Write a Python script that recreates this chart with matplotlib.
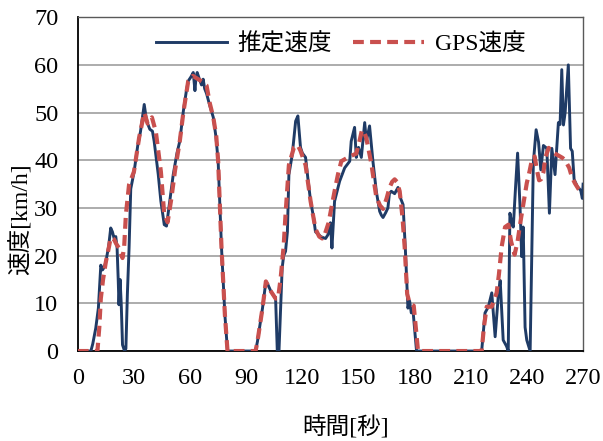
import matplotlib
matplotlib.use("Agg")
import matplotlib.pyplot as plt
from matplotlib import font_manager

_names = {f.name for f in font_manager.fontManager.ttflist}
_serif = 'Liberation Serif' if 'Liberation Serif' in _names else 'DejaVu Serif'
plt.rcParams['font.family'] = [_serif, 'Noto Sans CJK JP', 'DejaVu Sans']

# Estimated speed (推定速度)
est_t = [0, 7, 8, 9.6, 11, 12.3, 13.2, 14, 15, 16.5, 17.6, 18.5, 19.5, 20.3, 21, 21.6, 22, 22.6, 23.2,
         23.9, 25, 25.7, 26.5, 27.4, 28.3, 30.1, 32, 33.5, 35.5, 36.5, 37.3, 38.5, 39.9, 40.8, 41.7, 43,
         44.4, 46.2, 47.4, 49, 51, 53, 54.5, 56.4, 58, 59, 60.5, 61.7, 62.6, 63.2, 63.8, 65, 66.1, 67,
         67.8, 68.8, 70.5, 72.4, 73.8, 75, 76, 76.8, 78.6, 80, 95, 96, 98.7, 100.5, 101.5, 103.2, 105.7,
         106.6, 107.5, 108.5, 109.2, 110, 111, 112, 112.8, 114.6, 116.4, 117.6, 118.5, 119, 120, 121.7,
         123, 124.4, 126, 127, 128.5, 129.8, 131, 132.4, 133.7, 134.5, 135, 135.8, 137.2, 139.9, 142.6,
         145.3, 146.1, 147.3, 147.9, 148.8, 150, 151.5, 153.3, 154.2, 155.9, 157.7, 159.5, 161.3, 162.2,
         163.1, 164.5, 165.7, 166.5, 167.5, 169.3, 171.1, 172.5, 173.8, 175, 176.4, 177.3, 178.2, 179,
         181, 215.8, 217.6, 219.4, 221.2, 223, 224.8, 225.7, 227.3, 229.1, 230, 230.9, 231.8, 232.7, 234,
         235, 236.3, 237.2, 238, 239, 239.9, 241.7, 243.4, 244.9, 246.2, 247.4, 248.8, 250.6, 252, 253.3,
         255, 256.8, 257.7, 258.6, 259.5, 260.4, 262.1, 263.3, 264.2, 265.2, 266.9, 268.7, 269.6, 270]
est_v = [0, 0, 1.5, 4.8, 9, 18, 17, 17.5, 18.7, 22, 25.8, 25, 23.5, 24, 21.6, 15, 9.7, 15, 10,
         1.3, 0, 0.5, 12, 21.6, 34, 37.6, 43, 46, 51.7, 49, 47.7, 46.5, 46.1, 44, 41.2, 37,
         31.4, 26.5, 26.2, 31, 37, 41.5, 44, 50.3, 54.5, 56.6, 57.5, 58.4, 54.6, 57.5, 58.4, 57, 55.8, 57,
         55, 54, 51.5, 49, 45, 39.8, 30, 21.6, 7.6, 0, 0, 2, 9, 14.6, 14, 12.5, 11,
         0, 0, 10, 17.4, 20, 20.9, 25, 37, 41.2, 48.2, 49.3, 45, 42.7, 41.5, 40.6,
         36, 31.4, 28, 25, 24.5, 24, 23.8, 23.6, 24.4, 25.5, 26.9, 21.6, 31.4, 35.6, 38.4,
         39.8, 44, 46, 46.9, 40.6, 42.7, 40.6, 47.9, 44, 47.2, 39.8, 33.5, 29.3, 28.5,
         28, 29, 30, 33, 33.5, 33, 34.3, 32, 30.7, 21.6, 9, 10.5, 8, 9,
         0, 0, 8, 9.3, 12.2, 3, 12.2, 14.8, 2.3, 1, 0, 28.9, 27, 26, 35,
         41.5, 30.3, 19.8, 26, 5, 2.3, 0, 39.4, 46.4, 43.8, 38, 43.1, 42.5, 28.9, 42.5,
         37, 47.9, 47.5, 59, 47.4, 50, 60, 42.5, 41.9, 36, 34.5, 33.7, 32, 35]

# GPS speed (GPS速度)
gps_t = [0, 10.5, 11.5, 12.3, 13.5, 15, 16.5, 17.6, 19.4, 20.5, 22, 23, 23.9, 24.8, 25.7, 27.4, 30,
         32.8, 35.5, 37.3, 39.6, 41.7, 43, 44.4, 46.2, 48, 50, 52, 54.5, 56.4, 59, 61.5, 64.3, 66.5,
         68.8, 70.5, 72.4, 74, 75, 76.8, 78.6, 80, 95, 96, 98.7, 100.5, 103.2, 105.7, 107, 108.4,
         110, 111, 112.8, 115.5, 117.5, 119, 121.7, 124.4, 127, 129, 130.6, 132, 134, 137.2, 139,
         140.8, 144.4, 146.5, 148.8, 150.5, 151.8, 153, 154.2, 156.8, 159.5, 161.5, 163.1, 165,
         166.6, 168, 169.3, 170.5, 172, 173.5, 174.7, 176, 177.3, 179.5, 181.8, 215.8, 217, 218.5,
         221.2, 223.8, 225, 226.5, 228.3, 230.1, 231.5, 233.4, 235, 236.9, 239.9, 241.4, 242.6,
         244.1, 245.3, 246.5, 247.5, 248.8, 249.8, 251.6, 254, 256.8, 259, 260.4, 262.6, 264,
         265.6, 267.5, 270]
gps_v = [0, 0, 5, 11, 15, 18.7, 21.5, 23.8, 23.4, 22.5, 21.6, 20.5, 19.5, 22, 28.6, 34.9, 37.6,
         44.8, 50, 47.7, 49, 46, 42, 37.6, 28.6, 27, 32, 38, 44, 50, 56.6, 57.7, 57, 56.5,
         55.7, 52, 49, 45, 39.8, 21.6, 7.6, 0, 0, 2, 9, 14.6, 12.5, 11, 11, 15.3,
         22, 28.6, 39, 42.7, 43.2, 42, 39, 31.4, 25.6, 24, 23.6, 24.5, 26.9, 33.5, 37,
         39.8, 40.6, 41, 41.4, 44, 46.3, 46, 44.6, 39.4, 32.3, 30.5, 29.8, 32,
         34.3, 35.5, 36, 35.5, 33.5, 28, 21.6, 12, 10, 9.5, 0, 0, 5, 9.3,
         9.3, 12.2, 16, 21.9, 26, 26.5, 23, 20.2, 23, 28, 35.2, 37.7, 40,
         40.8, 38, 35.8, 36, 37.5, 40.5, 42.6, 41.6, 41, 40.5, 40, 38.4, 36.5,
         35.2, 34, 33]

x_ticks = [0, 30, 60, 90, 120, 150, 180, 210, 240, 270]
y_ticks = [0, 10, 20, 30, 40, 50, 60, 70]
label_est = '推定速度'
label_gps = 'GPS速度'
x_label = '時間[秒]'
y_label = '速度[km/h]'

fig = plt.figure(figsize=(6.03, 4.41), dpi=100)
ax = fig.add_axes([0.129, 0.204, 0.838, 0.757])

ax.plot(est_t, est_v, color='#1F3B66', lw=2.1, label=label_est, zorder=3)
ax.plot(gps_t, gps_v, color='#C9504E', lw=3.0, dashes=(2.6, 1.5), label=label_gps, zorder=4)

ax.set_xlim(0, 270)
ax.set_ylim(0, 70)
ax.set_xticks(x_ticks)
ax.set_yticks(y_ticks)
ax.yaxis.grid(True, color='#A6A6A6', lw=1.3)
ax.set_axisbelow(True)
ax.tick_params(length=0, labelsize=17.5)
ax.tick_params(axis='x', pad=12)
ax.tick_params(axis='y', pad=14)
for s in ['top', 'right']:
    ax.spines[s].set_color('#595959')
    ax.spines[s].set_linewidth(1.0)
for s in ['left', 'bottom']:
    ax.spines[s].set_color('black')
    ax.spines[s].set_linewidth(1.3)

ax.set_xlabel(x_label, fontsize=17)
ax.xaxis.set_label_coords(0.53, -0.195)
ax.set_ylabel(y_label, fontsize=17)
ax.yaxis.set_label_coords(-0.09, 0.395)

leg = ax.legend(loc='center', bbox_to_anchor=(0.52, 0.919), ncol=2, frameon=True,
                fontsize=17, handlelength=3.0, columnspacing=0.9, handletextpad=0.45,
                borderpad=0.2, edgecolor='none', facecolor='white', framealpha=1)

fig.savefig('out.png', dpi=100)
